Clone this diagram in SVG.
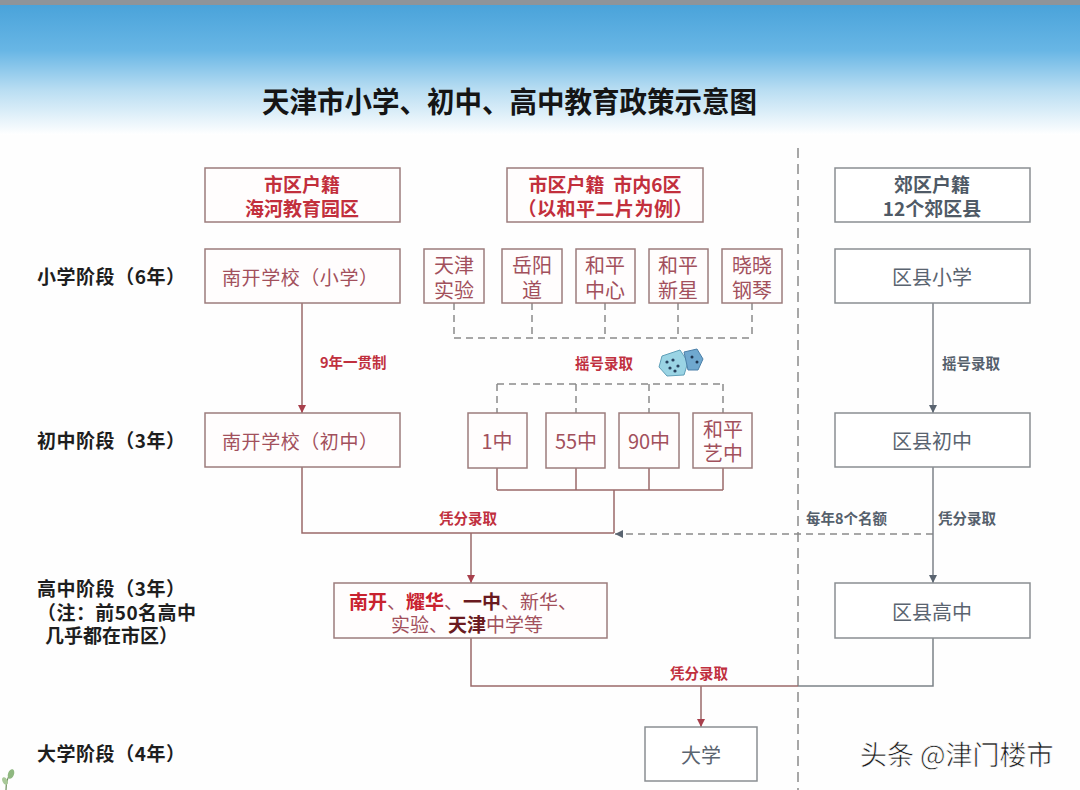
<svg xmlns="http://www.w3.org/2000/svg" width="1080" height="790" viewBox="0 0 1080 790">
<defs>
<linearGradient id="sky" x1="0" y1="0" x2="0" y2="1">
<stop offset="0" stop-color="#4aa3da"/>
<stop offset="0.35" stop-color="#68b6e5"/>
<stop offset="0.65" stop-color="#b8ddf2"/>
<stop offset="1" stop-color="#ffffff"/>
</linearGradient>
<marker id="arR" viewBox="0 0 10 10" refX="10" refY="5" markerWidth="8" markerHeight="8" markerUnits="userSpaceOnUse" orient="auto">
<path d="M0,0 L10,5 L0,10 z" fill="#a8404c"/>
</marker>
<marker id="arG" viewBox="0 0 10 10" refX="10" refY="5" markerWidth="8" markerHeight="8" markerUnits="userSpaceOnUse" orient="auto">
<path d="M0,0 L10,5 L0,10 z" fill="#5a6470"/>
</marker>
<style>
text{font-family:"Noto Sans CJK SC","Noto Sans",sans-serif;}
.rbox{fill:#fffdfd;stroke:#9c7c7c;stroke-width:1.5;}
.gbox{fill:#ffffff;stroke:#8a8e92;stroke-width:1.5;}
.hr{font-size:19px;font-weight:bold;fill:#c22f3c;text-anchor:middle;dominant-baseline:central;}
.hg{font-size:19px;font-weight:bold;fill:#4f5a66;text-anchor:middle;dominant-baseline:central;}
.nr{font-size:19px;fill:#a2505c;text-anchor:middle;dominant-baseline:central;}
.sr{font-size:20px;fill:#a2505c;text-anchor:middle;dominant-baseline:central;}
.ng{font-size:20px;fill:#5a6470;text-anchor:middle;dominant-baseline:central;}
.row{font-size:19px;font-weight:bold;fill:#1e1e1e;dominant-baseline:central;}
.lr{font-size:14.5px;font-weight:bold;fill:#c0303e;dominant-baseline:central;}
.lg{font-size:14.5px;font-weight:bold;fill:#55606c;dominant-baseline:central;}
.sl{fill:none;stroke:#9a6a6a;stroke-width:1.5;}
.sg{fill:none;stroke:#7c8288;stroke-width:1.5;}
.dl{fill:none;stroke:#8a8a8a;stroke-width:1.5;stroke-dasharray:7 5;}
</style>
</defs>
<rect x="0" y="0" width="1080" height="790" fill="#fefefe"/>
<rect x="0" y="5" width="1080" height="130" fill="url(#sky)"/>
<rect x="0" y="0" width="1080" height="5" fill="#8e949a"/>
<text x="262" y="100" font-size="29" font-weight="bold" fill="#151515" dominant-baseline="central" textLength="495" lengthAdjust="spacingAndGlyphs">天津市小学、初中、高中教育政策示意图</text>
<line x1="798" y1="148" x2="798" y2="790" stroke="#8a8a8a" stroke-width="1.5" stroke-dasharray="10 6"/>
<g id="row-labels">
<text class="row" x="37" y="275" textLength="148" lengthAdjust="spacing">小学阶段（6年）</text>
<text class="row" x="37" y="439" textLength="148" lengthAdjust="spacing">初中阶段（3年）</text>
<text class="row" y="587"><tspan x="37" textLength="148" lengthAdjust="spacing">高中阶段（3年）</tspan><tspan x="37" dy="24" textLength="159" lengthAdjust="spacing">（注：前50名高中</tspan><tspan x="45" dy="23" textLength="133" lengthAdjust="spacing">几乎都在市区）</tspan></text>
<text class="row" x="37" y="752" textLength="148" lengthAdjust="spacing">大学阶段（4年）</text>
</g>
<g id="connectors">
<line class="sl" x1="302" y1="303" x2="302" y2="413" marker-end="url(#arR)"/>
<path class="dl" d="M454,303 V338 M532,303 V338 M605,303 V338 M678,303 V338 M752,303 V338 M454,338 H752"/>
<path class="dl" d="M497,384 H723 M497,384 V413 M576,384 V413 M649,384 V413 M723,384 V413"/>
<path class="sl" d="M497,468 V490 M576,468 V490 M649,468 V490 M723,468 V490 M497,490 H723 M614,490 V533"/>
<path class="sl" d="M302,467 V533 H614"/>
<line class="sl" x1="471" y1="533" x2="471" y2="583" marker-end="url(#arR)"/>
<line class="dl" x1="933" y1="534" x2="615" y2="534" marker-end="url(#arG)"/>
<line class="sg" x1="933" y1="303" x2="933" y2="413" marker-end="url(#arG)"/>
<line class="sg" x1="933" y1="467" x2="933" y2="583" marker-end="url(#arG)"/>
<path class="sl" d="M471,638 V686 H798"/>
<path class="sg" d="M798,686 H933 V638"/>
<line class="sl" x1="701" y1="686" x2="701" y2="727" marker-end="url(#arR)"/>
</g>
<g id="edge-labels">
<text class="lr" x="320" y="361">9年一贯制</text>
<text class="lr" x="575" y="362">摇号录取</text>
<text class="lr" x="439" y="517">凭分录取</text>
<text class="lg" x="806" y="517">每年8个名额</text>
<text class="lg" x="938" y="517">凭分录取</text>
<text class="lg" x="942" y="362">摇号录取</text>
<text class="lr" x="670" y="672">凭分录取</text>
</g>
<g id="dice">
<path d="M662,356 L680,350 L688,362 L684,375 L667,376 L659,367 z" fill="#9ad4e4" stroke="#5f9fb8" stroke-width="1"/>
<path d="M684,352 L697,349 L703,359 L698,370 L688,370 z" fill="#6fa8cf" stroke="#4a7fa8" stroke-width="1"/>
<circle cx="667" cy="362" r="1.6" fill="#27415e"/>
<circle cx="673" cy="360" r="1.6" fill="#27415e"/>
<circle cx="670" cy="368" r="1.6" fill="#27415e"/>
<circle cx="678" cy="366" r="1.6" fill="#27415e"/>
<circle cx="675" cy="371" r="1.6" fill="#27415e"/>
<circle cx="692" cy="357" r="1.5" fill="#1f3550"/>
<circle cx="697" cy="362" r="1.5" fill="#1f3550"/>
</g>
<g id="h-nankai">
<rect class="rbox" x="205" y="168" width="195" height="54"/>
<text class="hr" x="302" y="183">市区户籍<tspan x="302" dy="24">海河教育园区</tspan></text>
</g>
<g id="h-city">
<rect class="rbox" x="507" y="168" width="196" height="54"/>
<text class="hr" y="183" xml:space="preserve"><tspan x="605">市区户籍  市内6区</tspan><tspan x="605" dy="24" textLength="175" lengthAdjust="spacing">（以和平二片为例）</tspan></text>
</g>
<g id="h-suburb">
<rect class="gbox" x="835" y="168" width="195" height="54"/>
<text class="hg" x="932" y="183">郊区户籍<tspan x="932" dy="24">12个郊区县</tspan></text>
</g>
<g id="n-nankai-primary">
<rect class="rbox" x="205" y="249" width="195" height="54"/>
<text class="nr" x="300" y="276" textLength="156" lengthAdjust="spacing">南开学校（小学）</text>
</g>
<g id="n-tjsy">
<rect class="rbox" x="424" y="249" width="60" height="54"/>
<text class="sr" x="454" y="264">天津<tspan x="454" dy="25">实验</tspan></text>
</g>
<g id="n-yyd">
<rect class="rbox" x="502" y="249" width="60" height="54"/>
<text class="sr" x="532" y="264">岳阳<tspan x="532" dy="25">道</tspan></text>
</g>
<g id="n-hpzx">
<rect class="rbox" x="576" y="249" width="59" height="54"/>
<text class="sr" x="605" y="264">和平<tspan x="605" dy="25">中心</tspan></text>
</g>
<g id="n-hpxx">
<rect class="rbox" x="649" y="249" width="59" height="54"/>
<text class="sr" x="678" y="264">和平<tspan x="678" dy="25">新星</tspan></text>
</g>
<g id="n-xxgq">
<rect class="rbox" x="722" y="249" width="60" height="54"/>
<text class="sr" x="752" y="264">晓晓<tspan x="752" dy="25">钢琴</tspan></text>
</g>
<g id="n-suburb-primary">
<rect class="gbox" x="835" y="249" width="195" height="54"/>
<text class="ng" x="932" y="276">区县小学</text>
</g>
<g id="n-nankai-middle">
<rect class="rbox" x="205" y="413" width="195" height="54"/>
<text class="nr" x="300" y="440" textLength="156" lengthAdjust="spacing">南开学校（初中）</text>
</g>
<g id="n-1z">
<rect class="rbox" x="468" y="413" width="59" height="55"/>
<text class="sr" x="497" y="440">1中</text>
</g>
<g id="n-55z">
<rect class="rbox" x="546" y="413" width="59" height="55"/>
<text class="sr" x="576" y="440">55中</text>
</g>
<g id="n-90z">
<rect class="rbox" x="619" y="413" width="60" height="55"/>
<text class="sr" x="649" y="440">90中</text>
</g>
<g id="n-hpyz">
<rect class="rbox" x="693" y="413" width="59" height="55"/>
<text class="sr" x="723" y="428">和平<tspan x="723" dy="24">艺中</tspan></text>
</g>
<g id="n-suburb-middle">
<rect class="gbox" x="835" y="413" width="195" height="54"/>
<text class="ng" x="932" y="440">区县初中</text>
</g>
<g id="n-city-high">
<rect class="rbox" x="334" y="583" width="273" height="55"/>
<text font-size="19" text-anchor="middle" dominant-baseline="central" fill="#a2505c" y="600"><tspan x="463"><tspan font-weight="bold" fill="#c8222f">南开</tspan>、<tspan font-weight="bold" fill="#c8222f">耀华</tspan>、<tspan font-weight="bold" fill="#6a1a20">一中</tspan>、新华、</tspan><tspan x="467" dy="23">实验、<tspan font-weight="bold" fill="#6a1a20">天津</tspan>中学等</tspan></text>
</g>
<g id="n-suburb-high">
<rect class="gbox" x="835" y="583" width="195" height="55"/>
<text class="ng" x="932" y="611">区县高中</text>
</g>
<g id="n-university">
<rect class="gbox" x="645" y="727" width="112" height="54"/>
<text class="ng" x="701" y="754" fill="#4a4e54">大学</text>
</g>
<text x="860" y="753" font-size="27" fill="#1a1a1a" dominant-baseline="central" stroke="#ffffff" stroke-width="0.6">头条 @津门楼市</text>
<g id="plant">
<path d="M6,790 C6,782 8,776 12,770" fill="none" stroke="#6a8a5a" stroke-width="1.2"/>
<ellipse cx="11" cy="774" rx="3" ry="5" fill="#8fb880" transform="rotate(20 11 774)"/>
<ellipse cx="5" cy="781" rx="2.5" ry="4" fill="#a8c898" transform="rotate(-25 5 781)"/>
</g>
</svg>
